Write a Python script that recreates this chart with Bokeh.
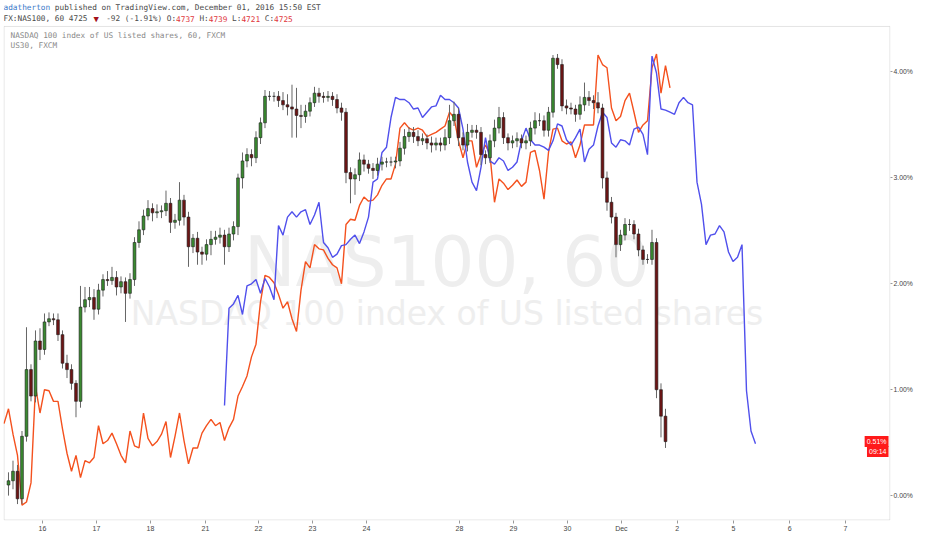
from bokeh.plotting import figure
from bokeh.models import Range1d, FixedTicker, PrintfTickFormatter, Label, ColumnDataSource, BoxAnnotation
from bokeh.embed import file_html
from bokeh.resources import INLINE

# ---------------- data (percent change, bar index = 2-hour steps) ----------------
nas_first_open = 0.10
nas_first_bar = 1
nas_close = [
    0.14, 0.23, -0.03, 0.56, 1.19, 0.94, 1.46, 1.38, 1.64, 1.67,
    1.66, 1.52, 1.25, 1.19, 1.06, 0.89, 1.78, 1.85, 1.87, 1.76,
    1.94, 2.04, 2.03, 2.06, 1.97, 2.02, 1.91, 2.04, 2.39, 2.51,
    2.64, 2.71, 2.67, 2.68, 2.69, 2.76, 2.58, 2.60, 2.79, 2.63,
    2.35, 2.43, 2.30, 2.28, 2.37, 2.42, 2.44, 2.46, 2.35, 2.47,
    2.54, 3.00, 3.16, 3.22, 3.19, 3.38, 3.52, 3.77, 3.77, 3.77,
    3.73, 3.69, 3.67, 3.65, 3.59, 3.58, 3.63, 3.71, 3.80, 3.77,
    3.76, 3.77, 3.74, 3.66, 3.62, 3.05, 2.99, 3.03, 3.17, 3.13,
    3.09, 3.07, 3.13, 3.15, 3.15, 3.15, 3.16, 3.28, 3.39, 3.43,
    3.39, 3.35, 3.37, 3.33, 3.31, 3.33, 3.31, 3.38, 3.54, 3.60,
    3.38, 3.31, 3.43, 3.45, 3.43, 3.22, 3.19, 3.35, 3.47, 3.57,
    3.38, 3.33, 3.35, 3.37, 3.33, 3.35, 3.47, 3.54, 3.54, 3.45,
    3.62, 4.13, 4.07, 3.68, 3.66, 3.65, 3.60, 3.69, 3.76, 3.73,
    3.71, 3.66, 3.00, 2.77, 2.63, 2.37, 2.46, 2.56, 2.56, 2.47,
    2.32, 2.23, 2.23, 2.39, 1.00, 0.75, 0.51,
]
nas_upper_wick = [
    0.08, 0.10, 0.06, 0.05, 0.40, 0.05, 0.10, 0.12, 0.08, 0.06,
    0.05, 0.06, 0.04, 0.08, 0.05, 0.03, 0.20, 0.12, 0.10, 0.08,
    0.06, 0.05, 0.08, 0.10, 0.06, 0.05, 0.04, 0.06, 0.05, 0.08,
    0.06, 0.08, 0.05, 0.07, 0.05, 0.12, 0.05, 0.06, 0.17, 0.05,
    0.05, 0.04, 0.06, 0.05, 0.05, 0.08, 0.06, 0.07, 0.05, 0.06,
    0.05, 0.04, 0.08, 0.06, 0.05, 0.06, 0.05, 0.06, 0.05, 0.04,
    0.05, 0.08, 0.10, 0.21, 0.20, 0.10, 0.06, 0.05, 0.06, 0.05,
    0.04, 0.05, 0.04, 0.05, 0.05, 0.04, 0.05, 0.06, 0.07, 0.05,
    0.04, 0.05, 0.06, 0.05, 0.04, 0.05, 0.04, 0.06, 0.07, 0.05,
    0.05, 0.06, 0.05, 0.04, 0.06, 0.05, 0.05, 0.08, 0.15, 0.12,
    0.06, 0.05, 0.08, 0.05, 0.05, 0.05, 0.04, 0.06, 0.08, 0.10,
    0.05, 0.04, 0.05, 0.06, 0.04, 0.05, 0.06, 0.08, 0.07, 0.05,
    0.05, 0.03, 0.04, 0.05, 0.06, 0.05, 0.04, 0.08, 0.14, 0.06,
    0.05, 0.10, 0.04, 0.06, 0.05, 0.04, 0.05, 0.06, 0.05, 0.04,
    0.05, 0.04, 0.05, 0.12, 0.04, 0.06, 0.07,
]
nas_lower_wick = [
    0.10, 0.08, 0.05, 0.05, 0.05, 0.05, 0.06, 0.10, 0.05, 0.04,
    0.05, 0.06, 0.05, 0.08, 0.06, 0.15, 0.06, 0.05, 0.07, 0.10,
    0.05, 0.06, 0.05, 0.04, 0.08, 0.06, 0.27, 0.05, 0.06, 0.05,
    0.05, 0.04, 0.08, 0.05, 0.06, 0.05, 0.10, 0.06, 0.05, 0.08,
    0.19, 0.06, 0.12, 0.10, 0.06, 0.10, 0.05, 0.06, 0.17, 0.05,
    0.06, 0.08, 0.10, 0.06, 0.08, 0.05, 0.06, 0.05, 0.04, 0.05,
    0.06, 0.05, 0.08, 0.27, 0.21, 0.11, 0.06, 0.05, 0.04, 0.06,
    0.05, 0.04, 0.06, 0.05, 0.08, 0.10, 0.23, 0.15, 0.06, 0.07,
    0.05, 0.08, 0.05, 0.06, 0.05, 0.04, 0.06, 0.05, 0.06, 0.05,
    0.06, 0.05, 0.04, 0.06, 0.07, 0.05, 0.06, 0.05, 0.06, 0.05,
    0.08, 0.05, 0.06, 0.05, 0.06, 0.10, 0.06, 0.05, 0.06, 0.05,
    0.06, 0.07, 0.05, 0.06, 0.05, 0.06, 0.05, 0.06, 0.05, 0.06,
    0.06, 0.05, 0.04, 0.05, 0.06, 0.05, 0.07, 0.05, 0.06, 0.05,
    0.06, 0.05, 0.10, 0.08, 0.06, 0.12, 0.06, 0.05, 0.06, 0.05,
    0.06, 0.05, 0.04, 0.05, 0.08, 0.20, 0.06,
]

us30_first_bar = 0
us30_pct = [
    0.68, 0.82, 0.58, 0.38, -0.09, -0.06, 0.12, 1.03, 0.78, 1.00,
    0.99, 0.89, 0.89, 0.63, 0.40, 0.23, 0.38, 0.17, 0.33, 0.31,
    0.36, 0.66, 0.49, 0.52, 0.59, 0.49, 0.38, 0.31, 0.61, 0.47,
    0.45, 0.78, 0.54, 0.47, 0.51, 0.58, 0.70, 0.36, 0.56, 0.78,
    0.52, 0.30, 0.45, 0.45, 0.59, 0.66, 0.72, 0.66, 0.69, 0.52,
    0.64, 0.72, 0.94, 1.03, 1.13, 1.31, 1.43, 1.83, 2.08, 2.06,
    2.01, 1.90, 1.77, 1.83, 1.67, 1.55, 1.94, 2.21, 2.15, 2.37,
    2.33, 2.32, 2.24, 2.18, 2.15, 2.00, 2.56, 2.61, 2.60, 2.74,
    2.82, 2.78, 2.79, 2.84, 2.93, 2.99, 2.99, 3.13, 3.47, 3.52,
    3.47, 3.45, 3.47, 3.45, 3.39, 3.41, 3.43, 3.46, 3.49, 3.62,
    3.57, 3.35, 3.19, 3.35, 3.35, 3.10, 3.22, 3.31, 3.22, 2.77,
    2.99, 2.95, 2.89, 2.93, 2.98, 2.92, 2.96, 3.24, 3.26, 3.07,
    2.80, 3.24, 3.46, 3.47, 3.35, 3.32, 3.34, 3.19, 3.31, 3.50,
    3.50, 3.50, 4.16, 4.07, 4.04, 3.66, 3.54, 3.58, 3.73, 3.80,
    3.62, 3.43, 3.50, 3.54, 4.04, 4.17, 3.80, 4.06, 3.85,
]

blue_first_bar = 49
blue_pct = [
    0.85, 1.77, 1.81, 1.89, 1.71, 1.98, 2.00, 2.04, 1.91, 2.05,
    1.97, 1.85, 2.55, 2.46, 2.63, 2.68, 2.63, 2.68, 2.70, 2.56,
    2.65, 2.77, 2.39, 2.34, 2.25, 2.28, 2.36, 2.37, 2.42, 2.46,
    2.38, 2.49, 2.63, 2.96, 2.99, 3.24, 3.29, 3.57, 3.76, 3.74,
    3.74, 3.71, 3.65, 3.66, 3.57, 3.62, 3.67, 3.68, 3.78, 3.74,
    3.74, 3.71, 3.66, 3.46, 3.15, 2.96, 2.88, 3.10, 3.38, 3.16,
    3.13, 3.19, 3.16, 3.07, 3.10, 3.15, 3.35, 3.47, 3.36, 3.31,
    3.31, 3.29, 3.26, 3.35, 3.51, 3.49, 3.36, 3.31, 3.38, 3.46,
    3.15, 3.27, 3.31, 3.49, 3.62, 3.57, 3.33, 3.29, 3.36, 3.35,
    3.31, 3.46, 3.48, 3.41, 3.22, 4.15, 3.99, 3.65, 3.64, 3.62,
    3.60, 3.71, 3.76, 3.71, 3.69, 2.96, 2.75, 2.37, 2.46, 2.47,
    2.55, 2.49, 2.30, 2.21, 2.25, 2.37, 0.99, 0.61, 0.49,
]

day_tick_bars = [8.56, 20.56, 32.56, 44.78, 56.56, 68.56, 80.56, 101.2,
                 113.2, 125.2, 137.2, 149.6, 162.1, 174.6, 187.0]
day_labels = ["16", "17", "18", "21", "22", "23", "24", "28",
              "29", "30", "Dec", "2", "5", "6", "7"]
price_ticks = [0, 1, 2, 3, 4]

last_pct = 0.51
countdown = "09:14"
last_ohlc = ["4737", "4739", "4721", "4725"]
ohlc_keys = ["O:", "H:", "L:", "C:"]
symbol_line = "FX:NAS100, 60 4725"
change_text = "-92 (-1.91%)"
author = "adatherton"
published = "published on TradingView.com, December 01, 2016 15:50 EST"
legend_rows = ["NASDAQ 100 index of US listed shares, 60, FXCM", "US30, FXCM"]
watermark_big = "NAS100, 60"
watermark_small = "NASDAQ 100 index of US listed shares"

# ---------------- figure ----------------
x_start, x_end = -0.11, 197.0
y_start, box_top, y_end = -0.235, 4.43, 4.675   # frame also holds the header strip

p = figure(width=916, height=534, title=None,
           x_range=Range1d(x_start, x_end), y_range=Range1d(y_start, y_end),
           output_backend="svg", toolbar_location=None, y_axis_location="right",
           min_border_left=3, min_border_right=26, min_border_top=0, min_border_bottom=11)
p.xgrid.visible = False
p.ygrid.visible = False
p.outline_line_color = None
p.background_fill_color = "white"
p.border_fill_color = "white"

# chart box border (below the header strip)
p.add_layout(BoxAnnotation(left=x_start + 0.12, right=x_end - 0.12, top=box_top,
                           bottom=y_start + 0.005, fill_alpha=0,
                           line_color="#a3a3a3", line_width=1, level="underlay"))

xa = p.xaxis[0]
xa.ticker = FixedTicker(ticks=day_tick_bars)
xa.major_label_overrides = {t: l for t, l in zip(day_tick_bars, day_labels)}
xa.axis_line_color = None
xa.major_tick_out = 3
xa.major_tick_in = 0
xa.major_tick_line_color = "#9a9a9a"
xa.minor_tick_line_color = None
xa.major_label_standoff = 1
xa.major_label_text_font = "Liberation Sans"
xa.major_label_text_font_size = "7px"
xa.major_label_text_color = "#444444"

ya = p.yaxis[0]
ya.ticker = FixedTicker(ticks=price_ticks)
ya.formatter = PrintfTickFormatter(format="%.2f%%")
ya.axis_line_color = None
ya.major_tick_out = 2
ya.major_tick_in = 0
ya.major_tick_line_color = "#9a9a9a"
ya.minor_tick_line_color = None
ya.major_label_standoff = 1
ya.major_label_text_font = "Liberation Sans"
ya.major_label_text_font_size = "6.8px"
ya.major_label_text_color = "#444444"

# watermark
p.add_layout(Label(x=(x_start + x_end) / 2, y=2.21, text=watermark_big, text_align="center",
                   text_baseline="middle", text_font="DejaVu Sans", text_font_size="69px",
                   text_color="#eeeeee", level="underlay"))
p.add_layout(Label(x=(x_start + x_end) / 2, y=1.72, text=watermark_small, text_align="center",
                   text_baseline="middle", text_font="DejaVu Sans", text_font_size="33px",
                   text_color="#eeeeee", level="underlay"))

# comparison lines
p.line([us30_first_bar + i for i in range(len(us30_pct))], us30_pct,
       line_color="#f4511e", line_width=1.4)
p.line([blue_first_bar + i for i in range(len(blue_pct))], blue_pct,
       line_color="#5050ec", line_width=1.4)

# candles
opens = [nas_first_open] + nas_close[:-1]
xs = [nas_first_bar + i for i in range(len(nas_close))]
tops = [max(o, c) for o, c in zip(opens, nas_close)]
bots = [min(o, c) for o, c in zip(opens, nas_close)]
highs = [t + w for t, w in zip(tops, nas_upper_wick)]
lows = [b - w for b, w in zip(bots, nas_lower_wick)]
colors = ["#3a8a30" if c >= o else "#6d1515" for o, c in zip(opens, nas_close)]
src = ColumnDataSource(dict(x=xs, top=tops, bottom=bots, high=highs, low=lows, color=colors))
p.segment(x0="x", y0="low", x1="x", y1="high", source=src, line_color="#666666", line_width=1)
p.vbar(x="x", width=0.62, top="top", bottom="bottom", source=src,
       fill_color="color", line_color="#1e1e1e", line_width=0.6)

# header text (monospace columns), inside the top strip of the frame
mono = "DejaVu Sans Mono"
fs = 7.75
cw = fs * 0.602


def head(text, col, dy, color, size=fs):
    p.add_layout(Label(x=x_start, y=y_end, x_offset=col * cw, y_offset=dy, text=text,
                       text_font=mono, text_font_size=f"{size}px", text_color=color,
                       text_align="left", text_baseline="middle"))


dark = "#4a4a4a"
red = "#e0363c"
head(author, 0, -7, "#3b7ac9")
head(published, len(author) + 1, -7, dark)
head(symbol_line, 0, -18, dark)
head("\u25bc", 19.3, -18, "#a3121a", 9)
head(change_text, 22, -18, dark)
col = 22 + len(change_text) + 1
for key, val in zip(ohlc_keys, last_ohlc):
    head(key, col, -18, dark)
    col += len(key)
    head(val, col, -18, red)
    col += len(val) + 1

# legend rows
for j, row in enumerate(legend_rows):
    p.add_layout(Label(x=x_start, y=y_end, x_offset=7, y_offset=-35 - 10 * j, text=row,
                       text_font=mono, text_font_size=f"{fs}px", text_color="#8a8a8a",
                       text_align="left", text_baseline="middle"))

# last value tag (kept just inside the chart box, at the right edge)
p.add_layout(Label(x=x_end, y=last_pct, x_offset=-2, text=f"{last_pct:.2f}%",
                   text_font="Liberation Sans", text_font_size="7px", text_color="white",
                   text_align="right", text_baseline="middle",
                   background_fill_color="#ff1a1a", padding=2))
p.add_layout(Label(x=x_end, y=last_pct, x_offset=-2, y_offset=-10, text=countdown,
                   text_font="Liberation Sans", text_font_size="7px", text_color="white",
                   text_align="right", text_baseline="middle",
                   background_fill_color="#ff1a1a", padding=2))

open("out.html", "w").write(file_html(p, INLINE))
